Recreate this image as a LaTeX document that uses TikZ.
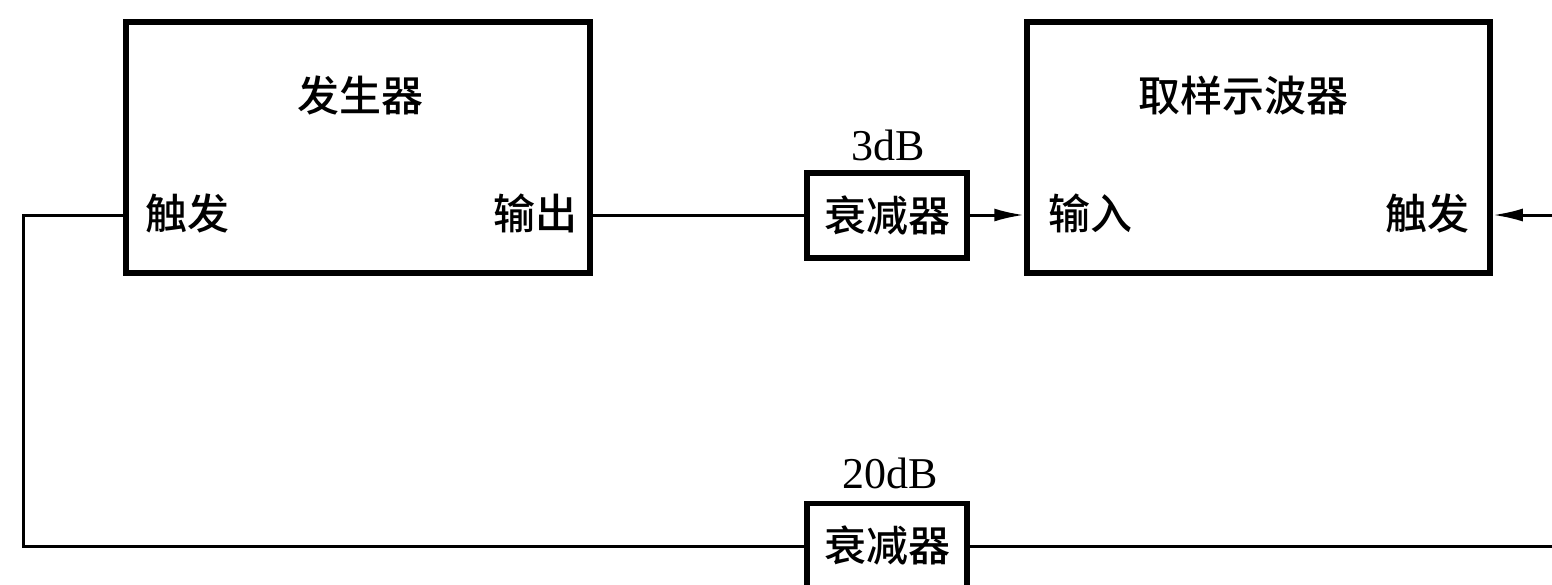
\documentclass[tikz,border=0pt]{standalone}
\usepackage{fontspec}
\setmainfont{Liberation Serif}
\newfontfamily\cjk{Noto Sans CJK SC}[UprightFont=* Medium]
\usetikzlibrary{arrows.meta}
\tikzset{
  block/.style={draw=black, line width=5.5pt, rectangle, inner sep=0pt},
  wire/.style={draw=black, line width=3pt},
  arr/.style={wire, -{Latex[length=30pt,width=13pt]}},
  cjklabel/.style={font=\cjk\fontsize{42}{46}\selectfont, inner sep=0pt},
  dblabel/.style={font=\fontsize{44}{48}\selectfont, inner sep=0pt}
}
\begin{document}
\begin{tikzpicture}[x=1pt,y=-1pt]
\useasboundingbox[fill=white] (0,0) rectangle (1552,584);
% blocks
\node[block, minimum width=464pt, minimum height=251pt] (gen) at (358,147.5) {};
\node[block, minimum width=463pt, minimum height=251pt] (osc) at (1258.5,147.5) {};
\node[block, minimum width=160pt, minimum height=85pt] (att1) at (887,215.5) {};
\node[block, minimum width=160pt, minimum height=85pt] (att2) at (887,546) {};
% labels
\node[cjklabel] (genname) at (360,95) {发生器};
\node[cjklabel, anchor=west] (gentrig) at (145,213) {触发};
\node[cjklabel, anchor=east] (genout) at (578,213) {输出};
\node[cjklabel] (oscname) at (1243,95) {取样示波器};
\node[cjklabel, anchor=west] (oscin) at (1048,213) {输入};
\node[cjklabel, anchor=east] (osctrig) at (1470,213) {触发};
\node[cjklabel] (att1name) at (887,215) {衰减器};
\node[cjklabel] (att2name) at (887,545) {衰减器};
\node[dblabel] (db3) at (888,145) {3dB};
\node[dblabel] (db20) at (890,473) {20dB};
% coordinates
\coordinate (row) at (0,215);
\coordinate (bot) at (0,546);
\coordinate (lc) at (23,0);
\coordinate (rin) at (1552,215);
\coordinate (rbot) at (1552,546);
% connectors
\draw[wire] (gen.east |- row) -- (att1.west |- row);
\draw[arr] (att1.east |- row) -- (osc.west |- row);
\draw[arr] (rin) -- (osc.east |- row);
\draw[wire] (gen.west |- row) -- (lc |- row) -- (lc |- bot) -- (att2.west |- bot);
\draw[wire] (att2.east |- bot) -- (rbot);
\end{tikzpicture}
\end{document}
